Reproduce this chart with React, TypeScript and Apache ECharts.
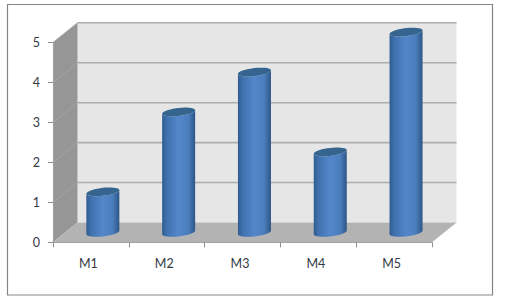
import React, { useEffect, useRef } from "react";
import * as echarts from "echarts";

const categories = ["M1", "M2", "M3", "M4", "M5"];
const values = [1, 3, 4, 2, 5];
const gridValues = [1, 2, 3, 4, 5];

const DEPTH_X = 24.5;
const DEPTH_Y = -19.8;
const FONT = "Lato, 'Open Sans', sans-serif";
const TEXT = "#333a46";

function ellipsePoints(cx: number, cy: number, a: number, b: number, tilt: number, from: number, to: number) {
  const pts: number[][] = [];
  const n = 36;
  for (let i = 0; i <= n; i++) {
    const t = from + ((to - from) * i) / n;
    pts.push([cx + a * Math.cos(t), cy + b * Math.sin(t) - tilt * Math.cos(t)]);
  }
  return pts;
}

const renderBackdrop = (params: any, api: any) => {
  const cs = params.coordSys;
  const l = cs.x;
  const r = cs.x + cs.width;
  const y0 = api.coord([0, 0])[1];
  const y5 = api.coord([0, 5])[1];
  const children: any[] = [
    { type: "polygon", shape: { points: [[l + DEPTH_X, y5 + DEPTH_Y], [r + DEPTH_X, y5 + DEPTH_Y], [r + DEPTH_X, y0 + DEPTH_Y], [l + DEPTH_X, y0 + DEPTH_Y]] }, style: { fill: "#e6e6e6" } },
    { type: "polygon", shape: { points: [[l, y5], [l + DEPTH_X, y5 + DEPTH_Y], [l + DEPTH_X, y0 + DEPTH_Y], [l, y0]] }, style: { fill: "#969696" } },
    { type: "polygon", shape: { points: [[l, y0], [l + DEPTH_X, y0 + DEPTH_Y], [r + DEPTH_X, y0 + DEPTH_Y], [r, y0]] }, style: { fill: "#b3b3b3" } },
  ];
  gridValues.forEach((v) => {
    const y = api.coord([0, v])[1];
    children.push({ type: "line", shape: { x1: l + DEPTH_X, y1: y + DEPTH_Y, x2: r + DEPTH_X, y2: y + DEPTH_Y }, style: { stroke: "#adadad", lineWidth: 1.6 } });
    children.push({ type: "line", shape: { x1: l, y1: y, x2: l + DEPTH_X, y2: y + DEPTH_Y }, style: { stroke: "#a4a4a4", lineWidth: 1 } });
  });
  return { type: "group", children };
};

const renderCylinder = (_params: any, api: any) => {
  const base = api.coord([api.value(0), 0]);
  const top = api.coord([api.value(0), api.value(1)]);
  const cx = base[0] + DEPTH_X / 2 - 0.3;
  const by = base[1] + DEPTH_Y / 2;
  const ty = top[1] + DEPTH_Y / 2 - 0.6;
  const a = 16.5;
  const b = 4;
  const tilt = 1.8;
  const lower = ellipsePoints(cx, by, a, b, tilt, 0, Math.PI);
  const upper = ellipsePoints(cx, ty, a, b, tilt, Math.PI, 0);
  const topFace = ellipsePoints(cx, ty, a, b, tilt, 0, Math.PI * 2);
  return {
    type: "group",
    children: [
      {
        type: "polygon",
        shape: { points: [...lower, ...upper] },
        style: {
          fill: {
            type: "linear", x: 0, y: 0, x2: 1, y2: 0,
            colorStops: [
              { offset: 0, color: "#2f5c90" },
              { offset: 0.14, color: "#4071ad" },
              { offset: 0.5, color: "#5387cb" },
              { offset: 0.8, color: "#4a7dbb" },
              { offset: 1, color: "#2d5686" },
            ],
          },
        },
      },
      { type: "polygon", shape: { points: topFace }, style: { fill: "#35648f" } },
    ],
  };
};

export default function App() {
  const ref = useRef<HTMLDivElement>(null);
  useEffect(() => {
    const chart = echarts.init(ref.current!, null, { renderer: "svg" });
    chart.setOption({
      animation: false,
      backgroundColor: "#ffffff",
      graphic: [
        { type: "rect", z: 10, shape: { x: 7.5, y: 4.5, width: 485, height: 290.5 }, style: { fill: "none", stroke: "#858585", lineWidth: 1.2 } },
      ],
      grid: { left: 53, top: 42.6, width: 379, height: 199.7 },
      xAxis: {
        type: "category",
        data: categories,
        z: 3,
        axisLine: { lineStyle: { color: "#a3a3a3", width: 1.2 } },
        axisTick: { show: true, alignWithLabel: false, length: 5, lineStyle: { color: "#8f8f8f" } },
        axisLabel: { color: TEXT, fontFamily: FONT, fontSize: 12.5, margin: 15, padding: [0, 5, 0, 0], interval: 0 },
        splitLine: { show: false },
      },
      yAxis: {
        type: "value",
        min: 0,
        max: 5,
        interval: 1,
        z: 3,
        axisLine: { show: true, lineStyle: { color: "#a3a3a3", width: 1.2 } },
        axisTick: { show: true, length: 5, lineStyle: { color: "#8f8f8f" } },
        axisLabel: { color: TEXT, fontFamily: FONT, fontSize: 12.5, margin: 13 },
        splitLine: { show: false },
      },
      series: [
        { type: "custom", z: 1, silent: true, clip: false, renderItem: renderBackdrop, encode: { x: 0, y: 1 }, data: [[0, 0]] },
        { type: "custom", z: 4, clip: false, renderItem: renderCylinder, encode: { x: 0, y: 1 }, data: values.map((v, i) => [i, v]) },
      ],
    });
    return () => chart.dispose();
  }, []);
  return <div ref={ref} style={{ position: "absolute", left: 0, top: 0, width: 510, height: 300 }} />;
}
